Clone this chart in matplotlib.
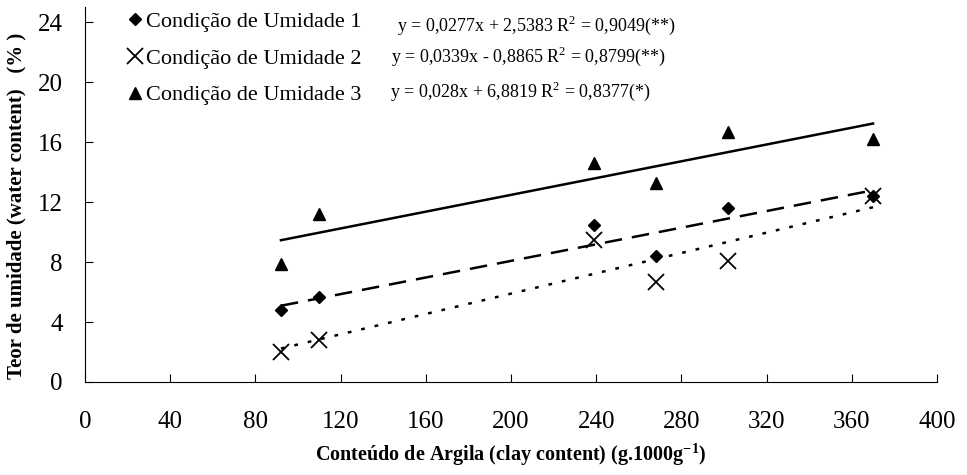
import numpy as np
import matplotlib.pyplot as plt
from matplotlib.lines import Line2D

plt.rcParams['font.family'] = ['Liberation Serif', 'DejaVu Serif']
plt.rcParams['mathtext.fontset'] = 'custom'
plt.rcParams['mathtext.rm'] = 'Liberation Serif'
plt.rcParams['mathtext.bf'] = 'Liberation Serif:bold'

# clay content (g/1000g)
argila = [92, 110, 239, 268, 302, 370]

# water content (%) per moisture condition
umid1 = [4.8, 5.7, 10.5, 8.4, 11.6, 12.4]
umid2 = [2.0, 2.8, 9.5, 6.7, 8.1, 12.4]
umid3 = [7.9, 11.2, 14.6, 13.3, 16.7, 16.2]

# regression coefficients (slope, intercept)
coef1 = (0.0277, 2.5383)
coef2 = (0.0339, -0.8865)
coef3 = (0.028, 6.8819)

labels = ['Condição de Umidade 1', 'Condição de Umidade 2', 'Condição de Umidade 3']
equacoes = ['y = 0,0277x + 2,5383 R$^2$ = 0,9049(**)',
            'y = 0,0339x - 0,8865 R$^2$ = 0,8799(**)',
            'y = 0,028x + 6,8819 R$^2$ = 0,8377(*)']

fig = plt.figure(figsize=(9.67, 4.75), dpi=100)
ax = fig.add_axes([0.0879, 0.1958, 0.881, 0.789])

x = np.array(argila)
xl = np.array([min(argila), max(argila)])

# trend lines
ax.plot(xl, coef1[0] * xl + coef1[1], color='black', lw=1.8, dashes=(7, 4))
ax.plot(xl, coef2[0] * xl + coef2[1], color='black', lw=1.8, dashes=(1.5, 4))
ax.plot(xl, coef3[0] * xl + coef3[1], color='black', lw=1.8, linestyle='-')

# points
ax.plot(x, umid1, linestyle='none', marker='D', ms=6.5, color='black')
ax.plot(x, umid2, linestyle='none', marker='x', ms=12, mew=1.3, color='black')
ax.plot(x, umid3, linestyle='none', marker='^', ms=9, color='black')

handles = [Line2D([], [], linestyle='none', marker='D', ms=6, color='black'),
           Line2D([], [], linestyle='none', marker='x', ms=11, mew=1.3, color='black'),
           Line2D([], [], linestyle='none', marker='^', ms=8, color='black')]
ax.legend(handles, labels, loc='upper left', bbox_to_anchor=(0.039, 1.012),
          frameon=False, fontsize=16, handlelength=0.7, handletextpad=0.15,
          labelspacing=0.72, borderaxespad=0)

eq_y = [23.8, 21.7, 19.4]
eq_x = [146.5, 143.7, 143.2]
for ex, ey, eq in zip(eq_x, eq_y, equacoes):
    ax.text(ex, ey, eq, fontsize=13, va='center', ha='left')

ax.set_xlim(0, 400)
ax.set_ylim(0, 25)
ax.set_xticks(np.arange(0, 401, 40))
ax.set_yticks(np.arange(0, 25, 4))
ax.tick_params(direction='in', length=6, labelsize=18)
ax.tick_params(axis='x', pad=21)
ax.tick_params(axis='y', pad=16)
for s in ['top', 'right']:
    ax.spines[s].set_visible(False)

ax.set_xlabel(r'Conteúdo de Argila (clay content) (g.1000g$^{\mathbf{-1}}$)',
              fontsize=14.5, fontweight='bold', labelpad=6)
ax.set_ylabel('Teor de umidade (water content)   (% )', fontsize=15,
              fontweight='bold')
ax.yaxis.set_label_coords(-0.069, 0.47)

plt.savefig('out.png', dpi=100)
